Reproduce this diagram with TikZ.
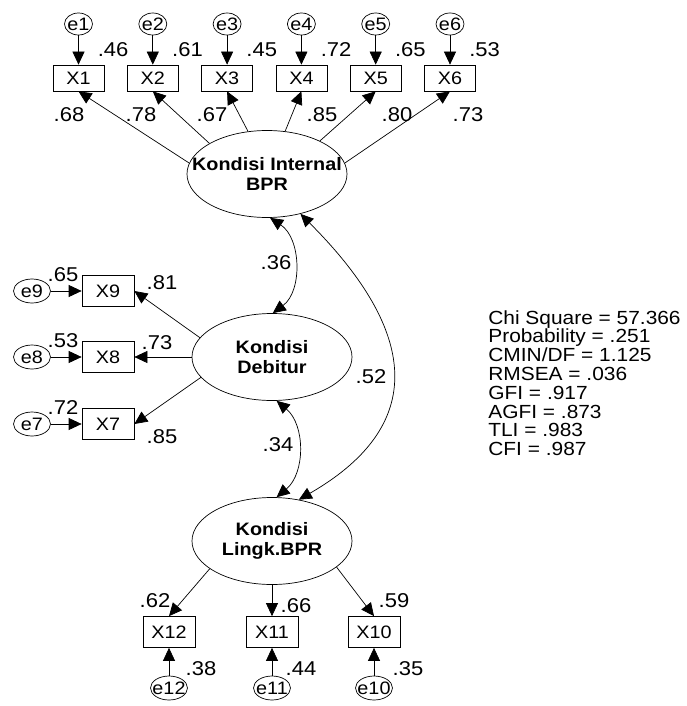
\documentclass[tikz,border=0pt]{standalone}
\usepackage{fontspec}
\setmainfont{Liberation Sans}[FakeStretch=1.1]
\usetikzlibrary{arrows.meta,shapes.geometric}

\begin{document}
\begin{tikzpicture}[x=1pt, y=1pt, line width=0.7pt,
  obs/.style={draw, rectangle, minimum width=52pt, minimum height=31pt, inner sep=0pt, font=\fontsize{18}{18}\selectfont},
  err/.style={draw, ellipse, minimum width=37pt, minimum height=24pt, inner xsep=-6pt, inner ysep=0pt, font=\fontsize{18}{18}\selectfont},
  lat/.style={draw, ellipse, minimum width=160pt, minimum height=87pt, inner xsep=-30pt, inner ysep=0pt, align=center, font=\fontsize{18}{20}\selectfont\bfseries},
  est/.style={inner sep=0pt, font=\fontsize{20}{20}\selectfont},
  regr/.style={-{Triangle[length=13pt,width=12pt]}},
  cov/.style={{Triangle[length=13pt,width=12pt]}-{Triangle[length=13pt,width=12pt]}}]
  \useasboundingbox (0,0) rectangle (686,-706);

  \node[lat] (ki) at (267,-174) {Kondisi Internal\\BPR};
  \node[lat] (kd) at (272,-357) {Kondisi\\Debitur};
  \node[lat] (kl) at (272,-541) {Kondisi\\Lingk.BPR};

  \foreach \i/\x/\ang/\vv/\lo/\lx in {1/78.5/172/.46/.68/69, 2/152.8/152/.61/.78/141, 3/227.1/114/.45/.67/212,
      4/301.4/67/.72/.85/322, 5/375.7/32/.65/.80/397, 6/450/8/.53/.73/468} {
    \node[obs, minimum width=51pt, minimum height=26pt] (x\i) at (\x,-78) {X\i};
    \node[err, minimum width=28pt, minimum height=22pt] (e\i) at (\x,-24) {e\i};
    \draw[regr] (e\i) -- (x\i);
    \draw[regr] (ki.\ang) -- (x\i.south);
    \node[est, anchor=west] (v\i) at (\x+19,-50) {\vv};
    \node[est] (l\i) at (\lx,-115) {\lo};
  }

  \foreach \i/\y/\ang/\vv/\lo/\lx/\ly in {9/291/165/.65/.81/162/283, 8/357/180/.53/.73/157/343, 7/424/196/.72/.85/162/437} {
    \node[obs] (x\i) at (108,-\y) {X\i};
    \node[err] (e\i) at (32,-\y) {e\i};
    \draw[regr] (e\i) -- (x\i);
    \draw[regr] (kd.\ang) -- (x\i.east);
    \node[est] (v\i) at (63,-\y+16) {\vv};
    \node[est] (l\i) at (\lx,-\ly) {\lo};
  }

  \foreach \i/\x/\ang/\vv/\vx/\lo/\lx/\ly in {12/169/204/.38/201/.62/155/601, 11/272/270/.44/301/.66/296/606, 10/374/338/.35/408/.59/394/601} {
    \node[obs] (x\i) at (\x,-632) {X\i};
    \node[err] (e\i) at (\x,-688) {e\i};
    \draw[regr] (e\i) -- (x\i);
    \draw[regr] (kl.\ang) -- (x\i.north);
    \node[est] (v\i) at (\vx,-669) {\vv};
    \node[est] (l\i) at (\lx,-\ly) {\lo};
  }

  \draw[cov] (ki.274) to[bend left=55] (kd.89);
  \draw[cov] (kd.-84) to[bend left=50] (kl.84);
  \draw[cov] (ki.-50) to[out=-45, in=30, looseness=1.4] (kl.57);
  \node[est] (c1) at (276,-263) {.36};
  \node[est] (c2) at (278,-445) {.34};
  \node[est] (c3) at (371,-377) {.52};

  \node[anchor=north west, inner sep=0pt, align=left, font=\fontsize{19}{18.8}\selectfont] (fit) at (488,-310)
    {Chi Square = 57.366\\Probability = .251\\CMIN/DF = 1.125\\RMSEA = .036\\GFI = .917\\AGFI = .873\\TLI = .983\\CFI = .987};
\end{tikzpicture}
\end{document}
